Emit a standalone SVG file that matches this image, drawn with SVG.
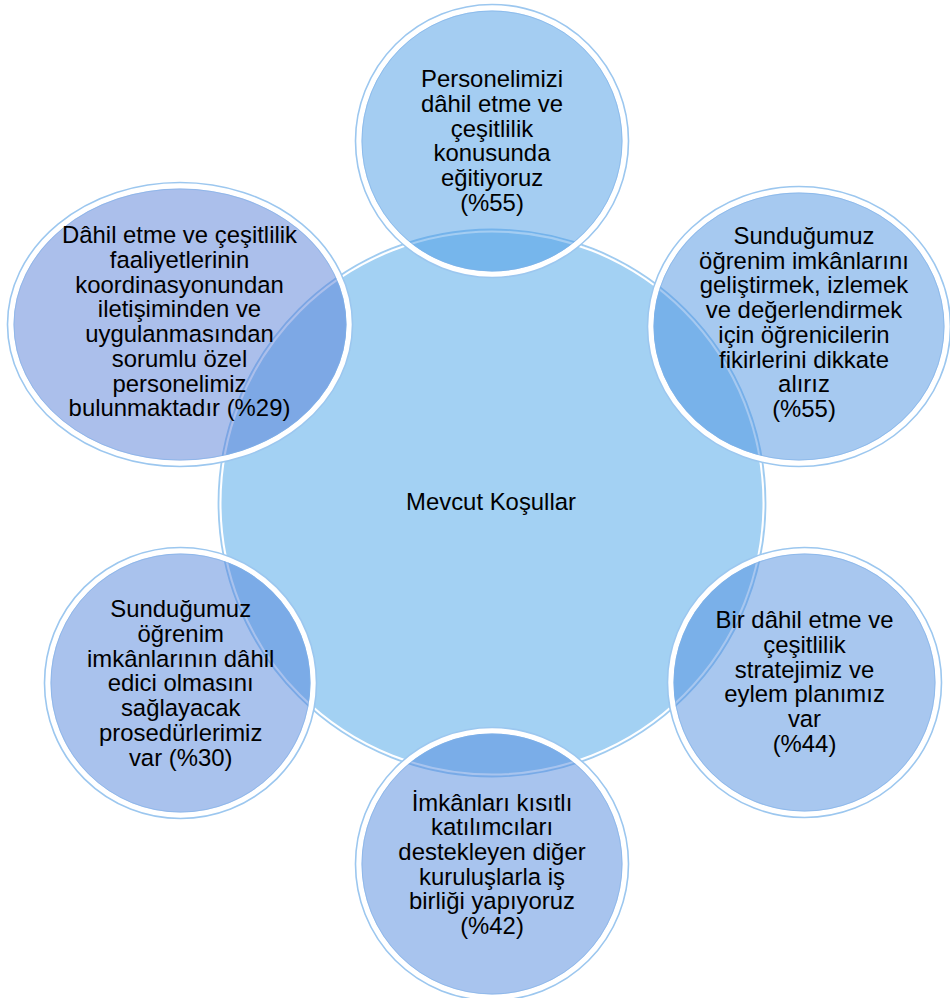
<svg xmlns="http://www.w3.org/2000/svg" width="950" height="998" viewBox="0 0 950 998">
<style>
.t{font-family:"Liberation Sans",Arial,sans-serif;font-size:23.9px;fill:#000;text-anchor:middle}
.band{fill:none;stroke:#fff;stroke-width:6}
.rim{fill:none;stroke:#9cc7ef;stroke-width:1.6}
.inner{fill:none;stroke:#7fb0e8;stroke-width:1;stroke-opacity:0.6}
</style>
<rect width="950" height="998" fill="#fff"/>
<g id="center">
<circle cx="492" cy="503" r="272" fill="#a3d1f3"/>
<circle cx="492" cy="503" r="271.5" fill="none" stroke="#fff" stroke-width="2"/>
<circle cx="492" cy="503" r="273.5" fill="none" stroke="#9fcbf0" stroke-width="1.8"/>
<text class="t" x="491" y="510">Mevcut Koşullar</text>
</g>
<g id="connectors"></g>
<g id="n-top">
<circle cx="492" cy="141" r="135" fill="#499be5" fill-opacity="0.5"/>
<circle class="band" cx="492" cy="141" r="133.5"/>
<circle class="inner" cx="492" cy="141" r="130"/>
<circle class="rim" cx="492" cy="141" r="136.5"/>
<text class="t" x="492" y="87.3">Personelimizi</text>
<text class="t" x="492" y="112">dâhil etme ve</text>
<text class="t" x="492" y="136.7">çeşitlilik</text>
<text class="t" x="492" y="161.4">konusunda</text>
<text class="t" x="492" y="186.1">eğitiyoruz</text>
<text class="t" x="492" y="210.8">(%55)</text>
</g>
<g id="n-topright">
<ellipse cx="799" cy="326.5" rx="150" ry="138.5" fill="#4d93e1" fill-opacity="0.5"/>
<ellipse class="band" cx="799" cy="326.5" rx="148.5" ry="137"/>
<ellipse class="inner" cx="799" cy="326.5" rx="145" ry="133.5"/>
<ellipse class="rim" cx="799" cy="326.5" rx="151.5" ry="140"/>
<text class="t" x="804" y="244">Sunduğumuz</text>
<text class="t" x="804" y="268.7">öğrenim imkânlarını</text>
<text class="t" x="804" y="293.4">geliştirmek, izlemek</text>
<text class="t" x="804" y="318.1">ve değerlendirmek</text>
<text class="t" x="804" y="342.8">için öğrenicilerin</text>
<text class="t" x="804" y="367.5">fikirlerini dikkate</text>
<text class="t" x="804" y="392.2">alırız</text>
<text class="t" x="804" y="416.9">(%55)</text>
</g>
<g id="n-bottomright">
<ellipse cx="804.5" cy="682.5" rx="135.5" ry="133.5" fill="#518fdf" fill-opacity="0.5"/>
<ellipse class="band" cx="804.5" cy="682.5" rx="134" ry="132"/>
<ellipse class="inner" cx="804.5" cy="682.5" rx="130.5" ry="128.5"/>
<ellipse class="rim" cx="804.5" cy="682.5" rx="137" ry="135"/>
<text class="t" x="804.5" y="628.3">Bir dâhil etme ve</text>
<text class="t" x="804.5" y="653">çeşitlilik</text>
<text class="t" x="804.5" y="677.7">stratejimiz ve</text>
<text class="t" x="804.5" y="702.4">eylem planımız</text>
<text class="t" x="804.5" y="727.1">var</text>
<text class="t" x="804.5" y="751.8">(%44)</text>
</g>
<g id="n-bottom">
<circle cx="492" cy="864" r="135" fill="#5189dd" fill-opacity="0.5"/>
<circle class="band" cx="492" cy="864" r="133.5"/>
<circle class="inner" cx="492" cy="864" r="130"/>
<circle class="rim" cx="492" cy="864" r="136.5"/>
<text class="t" x="492" y="810.7">İmkânları kısıtlı</text>
<text class="t" x="492" y="835.3">katılımcıları</text>
<text class="t" x="492" y="859.9">destekleyen diğer</text>
<text class="t" x="492" y="884.5">kuruluşlarla iş</text>
<text class="t" x="492" y="909.1">birliği yapıyoruz</text>
<text class="t" x="492" y="933.7">(%42)</text>
</g>
<g id="n-bottomleft">
<ellipse cx="180.5" cy="683" rx="134.5" ry="134" fill="#5385db" fill-opacity="0.5"/>
<ellipse class="band" cx="180.5" cy="683" rx="133" ry="132.5"/>
<ellipse class="inner" cx="180.5" cy="683" rx="129.5" ry="129"/>
<ellipse class="rim" cx="180.5" cy="683" rx="136" ry="135.5"/>
<text class="t" x="180.7" y="617">Sunduğumuz</text>
<text class="t" x="180.7" y="641.8">öğrenim</text>
<text class="t" x="180.7" y="666.6">imkânlarının dâhil</text>
<text class="t" x="180.7" y="691.4">edici olmasını</text>
<text class="t" x="180.7" y="716.2">sağlayacak</text>
<text class="t" x="180.7" y="741">prosedürlerimiz</text>
<text class="t" x="180.7" y="765.8">var (%30)</text>
</g>
<g id="n-topleft">
<ellipse cx="180" cy="324.5" rx="171" ry="140.5" fill="#577fd7" fill-opacity="0.5"/>
<ellipse class="band" cx="180" cy="324.5" rx="169.5" ry="139"/>
<ellipse class="inner" cx="180" cy="324.5" rx="166" ry="135.5"/>
<ellipse class="rim" cx="180" cy="324.5" rx="172.5" ry="142"/>
<text class="t" x="179.5" y="243.3">Dâhil etme ve çeşitlilik</text>
<text class="t" x="179.5" y="268">faaliyetlerinin</text>
<text class="t" x="179.5" y="292.7">koordinasyonundan</text>
<text class="t" x="179.5" y="317.4">iletişiminden ve</text>
<text class="t" x="179.5" y="342.1">uygulanmasından</text>
<text class="t" x="179.5" y="366.8">sorumlu özel</text>
<text class="t" x="179.5" y="391.5">personelimiz</text>
<text class="t" x="179.5" y="416.2">bulunmaktadır (%29)</text>
</g>
</svg>
